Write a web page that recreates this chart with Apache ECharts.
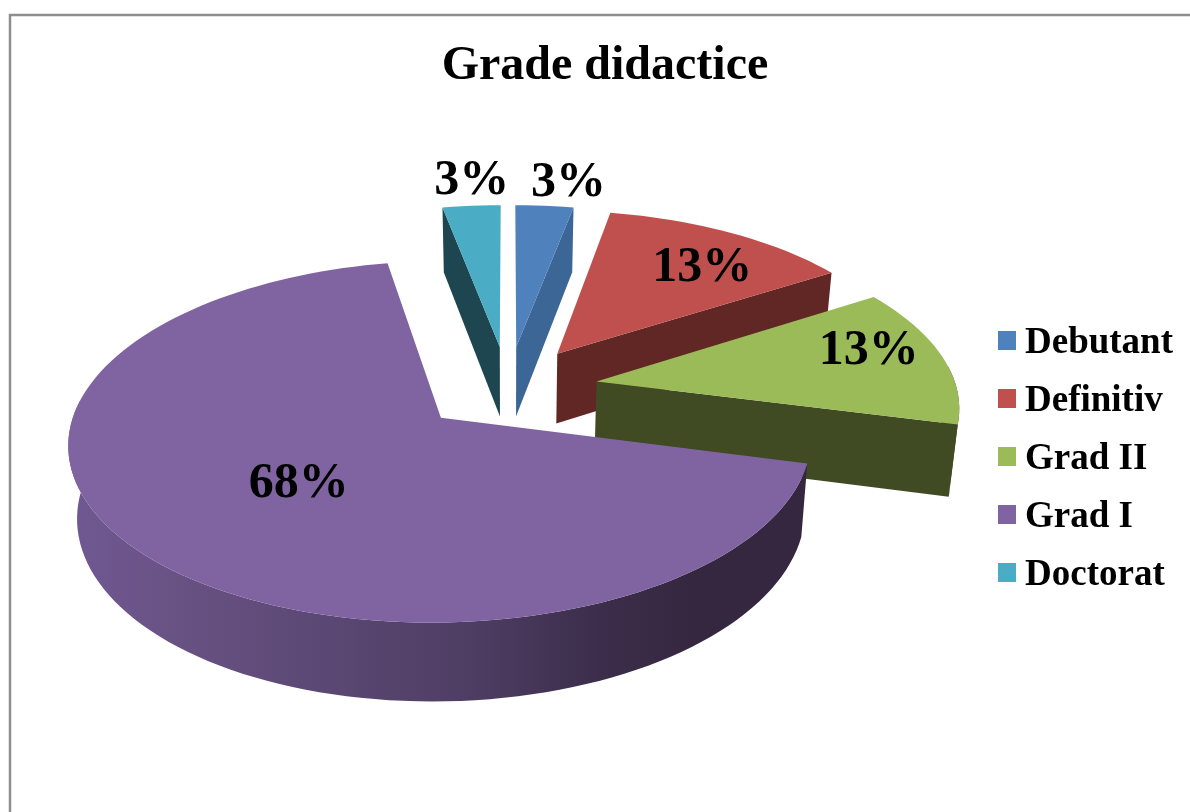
<!DOCTYPE html>
<html><head><meta charset="utf-8">
<style>html,body{margin:0;padding:0;background:#fff}#c{width:1190px;height:812px}</style>
<script src="https://cdn.jsdelivr.net/npm/echarts@6/dist/echarts.min.js"></script>
</head><body><div id="c"></div>
<script>
// Data
const categories = ['Debutant', 'Definitiv', 'Grad II', 'Grad I', 'Doctorat'];
const percentValues = [3, 13, 13, 68, 3];
const titleText = 'Grade didactice';

// Style per slice
const topColors = ['#4F81BD', '#C0504D', '#9BBB59', '#8064A2', '#4BACC6'];
const cutColors = ['#3C6696', '#602725', '#404A23', '#35273F', '#1D4650'];
const wallStops = [null, null, null,
  [[0, '#705893'], [0.12, '#6A5386'], [0.3, '#5E4A77'], [0.55, '#4E3D63'], [0.7, '#3D2F4D'], [0.85, '#35273F'], [1, '#35273F']],
  null];
const drawOrder = [2, 3, 4, 5, 2];
const labelRadius = [1.219, 0.747, 0.812, 0.495, 1.224];
const labelShiftDeg = [2.9, 3.3, -5.4, 0, 0.9];

// Projection of the tilted pie
const CX = 508, CY = 388, A = 360, B = 170, K = 0.129, EXPLODE = 0.25, DEPTH = 71, LOWER_SCALE = 0.98, LABEL_DX = 0, LABEL_DY = 3;
const total = percentValues.reduce((a, b) => a + b, 0);
const FONT = '"Liberation Serif","Times New Roman",serif';

function project(u, v, lower) {
  const w = 1 - K * v;
  const s = lower ? LOWER_SCALE : 1;
  return [CX + s * A * u / w, CY + (s * B * v + (lower ? DEPTH : 0)) / w];
}
function sliceAngles(i) {
  let start = 0;
  for (let j = 0; j < i; j++) start += percentValues[j] / total * 360;
  return [start, start + percentValues[i] / total * 360];
}
const rad = d => d * Math.PI / 180;
function polar(ax, ay, r, deg) { return [ax + r * Math.sin(rad(deg)), ay - r * Math.cos(rad(deg))]; }

function renderSlice(i) {
  const [a0, a1] = sliceAngles(i);
  const mid = (a0 + a1) / 2;
  const [ax, ay] = polar(0, 0, EXPLODE, mid);
  const steps = Math.max(4, Math.ceil((a1 - a0) / 2));
  const topRim = [], children = [];
  const visibleRim = [];
  for (let s = 0; s <= steps; s++) {
    const d = a0 + (a1 - a0) * s / steps;
    const p = polar(ax, ay, 1, d);
    topRim.push(project(p[0], p[1], false));
    if (Math.cos(rad(d)) < 0.12) visibleRim.push(p);
  }
  const apexTop = project(ax, ay, false), apexLow = project(ax, ay, true);
  const cutFace = deg => {
    const p = polar(ax, ay, 1, deg);
    return [apexTop, project(p[0], p[1], false), project(p[0], p[1], true), apexLow];
  };
  const cutStyle = { fill: cutColors[i] };
  if (visibleRim.length > 1) {
    const pts = visibleRim.map(p => project(p[0], p[1], false))
      .concat(visibleRim.slice().reverse().map(p => project(p[0], p[1], true)));
    const fill = wallStops[i]
      ? new echarts.graphic.LinearGradient(0, 0, 1, 0, wallStops[i].map(s => ({ offset: s[0], color: s[1] })))
      : cutColors[i];
    children.push({ type: 'polygon', shape: { points: pts }, style: { fill: fill } });
  }
  if (Math.sin(rad(a0)) < -0.001) children.push({ type: 'polygon', shape: { points: cutFace(a0) }, style: cutStyle });
  if (Math.sin(rad(a1)) > 0.001) children.push({ type: 'polygon', shape: { points: cutFace(a1) }, style: cutStyle });
  children.push({ type: 'polygon', shape: { points: [apexTop].concat(topRim) }, style: { fill: topColors[i] } });
  const lp = polar(ax, ay, labelRadius[i], mid + labelShiftDeg[i]);
  const lxy = project(lp[0], lp[1], false);
  children.push({ type: 'text', style: { text: percentValues[i] + '%', x: lxy[0] + LABEL_DX, y: lxy[1] + LABEL_DY, align: 'center', verticalAlign: 'middle', font: 'bold 50px ' + FONT, fill: '#000' } });
  return { type: 'group', children: children };
}

const chart = echarts.init(document.getElementById('c'), null, { renderer: 'canvas' });
chart.setOption({
  animation: false,
  backgroundColor: '#fff',
  title: { text: titleText, left: 600, top: 38, textAlign: 'center', textStyle: { fontFamily: FONT, fontWeight: 'bold', fontSize: 48, color: '#000' } },
  legend: {
    data: categories, orient: 'vertical', left: 993, top: 320, icon: 'rect', itemWidth: 18, itemHeight: 19, itemGap: 21,
    selectedMode: false,
    formatter: '{t|{name}}',
    textStyle: { fontFamily: FONT, fontWeight: 'bold', fontSize: 37, color: '#000',
      rich: { t: { fontFamily: FONT, fontWeight: 'bold', fontSize: 37, color: '#000', padding: [6, 0, 0, 4], height: 37 } } }
  },
  graphic: [{ type: 'polyline', shape: { points: [[10, 830], [10, 15], [1200, 15]] }, style: { stroke: '#8E8E8E', lineWidth: 2.5, fill: null }, silent: true }],
  series: categories.map((name, i) => ({
    type: 'custom', name: name, coordinateSystem: 'none', silent: true, z: drawOrder[i],
    itemStyle: { color: topColors[i] },
    data: [percentValues[i]],
    renderItem: () => renderSlice(i)
  }))
});
</script></body></html>
